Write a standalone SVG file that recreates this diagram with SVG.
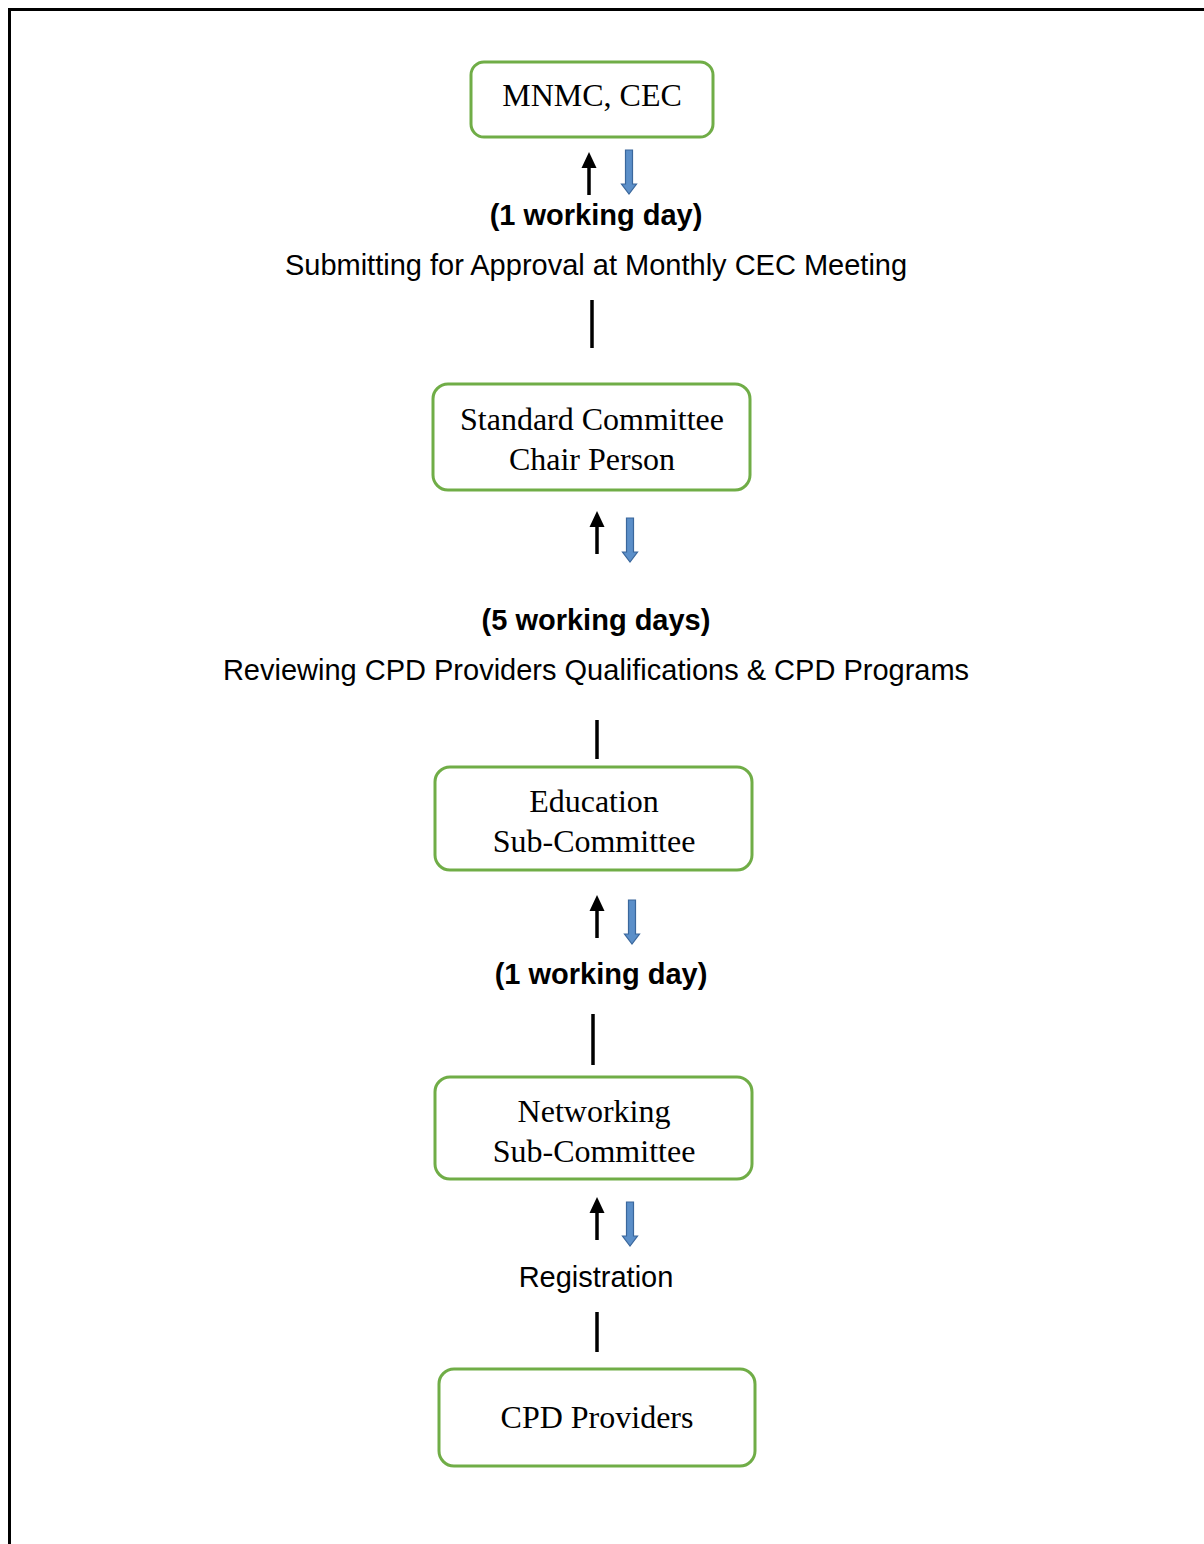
<svg xmlns="http://www.w3.org/2000/svg" width="1204" height="1544" viewBox="0 0 1204 1544">
  <style>
    .box { fill: #ffffff; stroke: #70ad47; stroke-width: 3; }
    .serif { font-family: "Liberation Serif", "Times New Roman", serif; font-size: 32px; fill: #000; text-anchor: middle; }
    .sans { font-family: "Liberation Sans", Arial, sans-serif; font-size: 29px; fill: #000; text-anchor: middle; }
    .bold { font-weight: bold; }
    .line { stroke: #000; stroke-width: 3.5; }
    .up-shaft { stroke: #000; stroke-width: 3.5; }
    .up-head { fill: #000; }
    .down { fill: #5b8fc9; stroke: #3a679c; stroke-width: 1.2; }
  </style>
  <defs>
    <!-- up arrow: tip at origin, 43 long -->
    <g id="upArrow">
      <line class="up-shaft" x1="0" y1="14" x2="0" y2="43"/>
      <polygon class="up-head" points="0,0 -7.5,16 7.5,16"/>
    </g>
    <!-- block down arrow: tail at origin, 44 long -->
    <g id="downArrow">
      <polygon class="down" points="-3.5,0 3.5,0 3.5,34 7.5,34 0,44 -7.5,34 -3.5,34"/>
    </g>
  </defs>

  <rect width="1204" height="1544" fill="#ffffff"/>
  <!-- page frame -->
  <path d="M9.5 1544 V9.5 H1204" fill="none" stroke="#000" stroke-width="3"/>

  <g id="mnmc-cec">
    <rect class="box" x="471" y="62" width="242" height="75" rx="13"/>
    <text class="serif" x="592" y="106">MNMC, CEC</text>
  </g>

  <g id="standard-committee">
    <rect class="box" x="433" y="384" width="317" height="106" rx="15"/>
    <text class="serif" x="592" y="430">Standard Committee</text>
    <text class="serif" x="592" y="470">Chair Person</text>
  </g>

  <g id="education-subcommittee">
    <rect class="box" x="435" y="767" width="317" height="103" rx="15"/>
    <text class="serif" x="594" y="812">Education</text>
    <text class="serif" x="594" y="852">Sub-Committee</text>
  </g>

  <g id="networking-subcommittee">
    <rect class="box" x="435" y="1077" width="317" height="102" rx="15"/>
    <text class="serif" x="594" y="1122">Networking</text>
    <text class="serif" x="594" y="1162">Sub-Committee</text>
  </g>

  <g id="cpd-providers">
    <rect class="box" x="439" y="1369" width="316" height="97" rx="15"/>
    <text class="serif" x="597" y="1428">CPD Providers</text>
  </g>

  <g id="connectors">
    <use href="#upArrow" x="589" y="152"/>
    <use href="#downArrow" x="629" y="150"/>
    <line class="line" x1="592" y1="300" x2="592" y2="348"/>

    <use href="#upArrow" x="597" y="511"/>
    <use href="#downArrow" x="630" y="518"/>
    <line class="line" x1="597" y1="720" x2="597" y2="759"/>

    <use href="#upArrow" x="597" y="895"/>
    <use href="#downArrow" x="632" y="900"/>
    <line class="line" x1="593" y1="1014" x2="593" y2="1065"/>

    <use href="#upArrow" x="597" y="1197"/>
    <use href="#downArrow" x="630" y="1202"/>
    <line class="line" x1="597" y1="1312" x2="597" y2="1352"/>
  </g>

  <g id="labels">
    <text class="sans bold" x="596" y="225">(1 working day)</text>
    <text class="sans" x="596" y="275">Submitting for Approval at Monthly CEC Meeting</text>
    <text class="sans bold" x="596" y="630">(5 working days)</text>
    <text class="sans" x="596" y="680">Reviewing CPD Providers Qualifications &amp; CPD Programs</text>
    <text class="sans bold" x="601" y="984">(1 working day)</text>
    <text class="sans" x="596" y="1287">Registration</text>
  </g>
</svg>
